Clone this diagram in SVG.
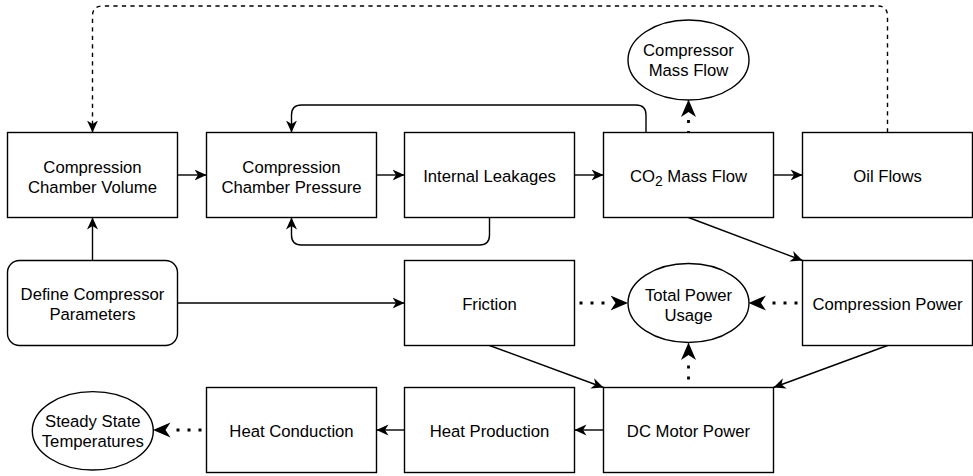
<svg xmlns="http://www.w3.org/2000/svg" width="973" height="476" viewBox="0 0 973 476">
  <style>
    .box { fill: #ffffff; stroke: #000000; stroke-width: 1.4; }
    .lbl { font-family: "Liberation Sans", Arial, Helvetica, sans-serif; font-size: 16.7px; fill: #000000; text-anchor: middle; }
    .edge { fill: none; stroke: #000000; stroke-width: 1.4; marker-end: url(#arrow); }
    .dashed { fill: none; stroke: #000000; stroke-width: 1.4; stroke-dasharray: 4.25 4.25; marker-end: url(#arrow); }
    .dotted { fill: none; stroke: #000000; stroke-width: 2.8; stroke-dasharray: 3 8; marker-end: url(#bigArrow); }
  </style>
  <defs>
    <!-- classic arrowhead, tip at the path end -->
    <marker id="arrow" viewBox="0 -6 12 12" markerWidth="12" markerHeight="12" refX="12" refY="0" orient="auto" markerUnits="userSpaceOnUse">
      <path d="M12,0 L0,-5.5 L3.5,0 L0,5.5 Z" fill="#000000"/>
    </marker>
    <!-- larger arrowhead for dotted links, placed beyond the path end -->
    <marker id="bigArrow" viewBox="0 -8 18 16" markerWidth="18" markerHeight="16" refX="0" refY="0" orient="auto" markerUnits="userSpaceOnUse">
      <path d="M17.5,0 L0,-7.5 L5,0 L0,7.5 Z" fill="#000000"/>
    </marker>
  </defs>

  <!-- connectors -->
  <g id="connectors">
    <path class="dashed" d="M887.5,132.5 V16 Q887.5,6 877.5,6 H102.5 Q92.5,6 92.5,16 V132.5"/>
    <path class="edge" d="M177.5,175 H206.5"/>
    <path class="edge" d="M376.5,175 H404.5"/>
    <path class="edge" d="M574.5,175 H603.5"/>
    <path class="edge" d="M773.5,175 H802.5"/>
    <path class="edge" d="M646,132.5 V115 Q646,105 636,105 H301.5 Q291.5,105 291.5,115 V132.5"/>
    <path class="edge" d="M489.5,217.5 V235 Q489.5,245 479.5,245 H301.5 Q291.5,245 291.5,235 V217.5"/>
    <path class="edge" d="M92.5,260.5 V217.5"/>
    <path class="edge" d="M177.5,303 H404.5"/>
    <path class="edge" d="M688.5,217.5 L802.5,260.5"/>
    <path class="edge" d="M489.5,345.5 L603.5,387.5"/>
    <path class="edge" d="M887.5,345.5 L773.5,387.5"/>
    <path class="edge" d="M603.5,430 H574.5"/>
    <path class="edge" d="M404.5,430 H376.5"/>
    <path class="dotted" d="M688.5,134 V117"/>
    <path class="dotted" d="M579.5,303 H610.5"/>
    <path class="dotted" d="M797.5,303 H766"/>
    <path class="dotted" d="M688.5,379.5 V360"/>
    <path class="dotted" d="M201.5,430 H170.5"/>
  </g>

  <!-- nodes -->
  <g id="ccv">
    <rect class="box" x="7.5" y="132.5" width="170" height="85"/>
    <text class="lbl" x="92.5" y="172.5">Compression</text>
    <text class="lbl" x="92.5" y="192.5">Chamber Volume</text>
  </g>
  <g id="ccp">
    <rect class="box" x="206.5" y="132.5" width="170" height="85"/>
    <text class="lbl" x="291.5" y="172.5">Compression</text>
    <text class="lbl" x="291.5" y="192.5">Chamber Pressure</text>
  </g>
  <g id="leakages">
    <rect class="box" x="404.5" y="132.5" width="170" height="85"/>
    <text class="lbl" x="489.5" y="181.7">Internal Leakages</text>
  </g>
  <g id="co2flow">
    <rect class="box" x="603.5" y="132.5" width="170" height="85"/>
    <text class="lbl" x="688.5" y="181.7">CO<tspan font-size="13.9px" dy="4">2</tspan><tspan dy="-4"> Mass Flow</tspan></text>
  </g>
  <g id="oilflows">
    <rect class="box" x="802.5" y="132.5" width="170" height="85"/>
    <text class="lbl" x="887.5" y="181.7">Oil Flows</text>
  </g>
  <g id="massflow">
    <ellipse class="box" cx="688.5" cy="60" rx="60.5" ry="40"/>
    <text class="lbl" x="688.5" y="56">Compressor</text>
    <text class="lbl" x="688.5" y="76">Mass Flow</text>
  </g>
  <g id="params">
    <rect class="box" x="7.5" y="260.5" width="170" height="85" rx="12" ry="12"/>
    <text class="lbl" x="92.5" y="300">Define Compressor</text>
    <text class="lbl" x="92.5" y="320">Parameters</text>
  </g>
  <g id="friction">
    <rect class="box" x="404.5" y="260.5" width="170" height="85"/>
    <text class="lbl" x="489.5" y="309.7">Friction</text>
  </g>
  <g id="totalpower">
    <ellipse class="box" cx="688.5" cy="303" rx="60.5" ry="39.5"/>
    <text class="lbl" x="688.5" y="300.7">Total Power</text>
    <text class="lbl" x="688.5" y="320.7">Usage</text>
  </g>
  <g id="comppower">
    <rect class="box" x="802.5" y="260.5" width="170" height="85"/>
    <text class="lbl" x="887.5" y="309.7">Compression Power</text>
  </g>
  <g id="conduction">
    <rect class="box" x="206.5" y="387.5" width="170" height="85"/>
    <text class="lbl" x="291.5" y="437.2">Heat Conduction</text>
  </g>
  <g id="production">
    <rect class="box" x="404.5" y="387.5" width="170" height="85"/>
    <text class="lbl" x="489.5" y="437.2">Heat Production</text>
  </g>
  <g id="motor">
    <rect class="box" x="603.5" y="387.5" width="170" height="85"/>
    <text class="lbl" x="688.5" y="437.2">DC Motor Power</text>
  </g>
  <g id="steadystate">
    <ellipse class="box" cx="92.8" cy="430.8" rx="60.5" ry="39.2"/>
    <text class="lbl" x="92.8" y="427.3">Steady State</text>
    <text class="lbl" x="92.8" y="446.7">Temperatures</text>
  </g>
</svg>
